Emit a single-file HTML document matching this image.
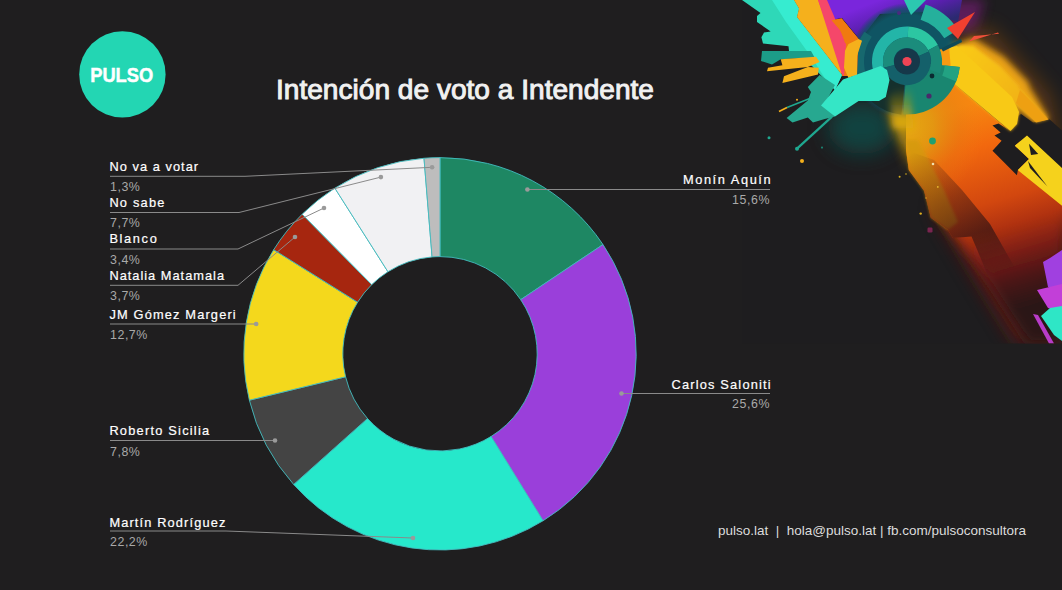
<!DOCTYPE html>
<html lang="es"><head><meta charset="utf-8"><title>Intención de voto a Intendente</title>
<style>
html,body{margin:0;padding:0;background:#1f1e1f;}
body{width:1062px;height:590px;overflow:hidden;position:relative;font-family:"Liberation Sans",sans-serif;}
svg{position:absolute;left:0;top:0;display:block}
.nm{font:12.8px "Liberation Sans",sans-serif;fill:#fff;stroke:#fff;stroke-width:.2px}
.vl{font:12.4px "Liberation Sans",sans-serif;fill:#a9a9a9;letter-spacing:.55px}
.title{font:400 27.5px "Liberation Sans",sans-serif;fill:#f1f1f1;stroke:#f1f1f1;stroke-width:.95px}
.logo{font:700 21px "Liberation Sans",sans-serif;fill:#fff;stroke:#fff;stroke-width:.5px}
.foot{font:13.5px "Liberation Sans",sans-serif;fill:#dcdcdc}
</style></head>
<body>
<svg width="1062" height="590" viewBox="0 0 1062 590">
<rect width="1062" height="590" fill="#1f1e1f"/>
<defs>
<clipPath id="artclip"><rect x="742" y="0" width="320" height="343.5"/></clipPath>
<filter id="b1" x="-10%" y="-10%" width="120%" height="120%"><feGaussianBlur stdDeviation="1.5"/></filter>
<filter id="b3" x="-30%" y="-30%" width="160%" height="160%"><feGaussianBlur stdDeviation="3"/></filter>
<filter id="b6" x="-40%" y="-40%" width="180%" height="180%"><feGaussianBlur stdDeviation="6"/></filter>
<filter id="b10" x="-50%" y="-50%" width="200%" height="200%"><feGaussianBlur stdDeviation="10"/></filter>
<filter id="b16" x="-60%" y="-60%" width="220%" height="220%"><feGaussianBlur stdDeviation="16"/></filter>
<linearGradient id="gBand" gradientUnits="userSpaceOnUse" x1="950" y1="110" x2="1010" y2="310">
 <stop offset="0" stop-color="#f78810"/><stop offset=".21" stop-color="#f2680e"/><stop offset=".48" stop-color="#d2470f"/>
 <stop offset=".61" stop-color="#b03210"/><stop offset=".74" stop-color="#7c1e14"/><stop offset=".87" stop-color="#4a1518"/><stop offset="1" stop-color="#2a1619"/>
</linearGradient>
<radialGradient id="gAmber" gradientUnits="userSpaceOnUse" cx="906" cy="128" r="78">
 <stop offset="0" stop-color="#e6aa12" stop-opacity="1"/><stop offset=".35" stop-color="#e09a12" stop-opacity=".85"/><stop offset=".7" stop-color="#e07c12" stop-opacity=".3"/><stop offset="1" stop-color="#f07a10" stop-opacity="0"/>
</radialGradient>
<linearGradient id="gEdge" gradientUnits="userSpaceOnUse" x1="915" y1="150" x2="985" y2="255">
 <stop offset="0" stop-color="#3a1612" stop-opacity="0"/><stop offset=".5" stop-color="#3a1612" stop-opacity=".45"/><stop offset="1" stop-color="#2a1214" stop-opacity=".8"/>
</linearGradient>
<linearGradient id="gFade" gradientUnits="userSpaceOnUse" x1="930" y1="150" x2="1040" y2="330">
 <stop offset="0" stop-color="#1a1a1c" stop-opacity="0"/><stop offset=".5" stop-color="#1a1a1c" stop-opacity="0"/><stop offset="1" stop-color="#1a1a1c" stop-opacity=".55"/>
</linearGradient>
<linearGradient id="gPurple" gradientUnits="userSpaceOnUse" x1="880" y1="0" x2="895" y2="40">
 <stop offset="0" stop-color="#7a26dc"/><stop offset=".5" stop-color="#5b1fb0"/><stop offset="1" stop-color="#2b2a70"/>
</linearGradient>
<linearGradient id="gYellow" gradientUnits="userSpaceOnUse" x1="950" y1="60" x2="1040" y2="140">
 <stop offset="0" stop-color="#f9c915"/><stop offset=".6" stop-color="#f2b514"/><stop offset="1" stop-color="#eea212"/>
</linearGradient>
<linearGradient id="gMask" gradientUnits="userSpaceOnUse" x1="950" y1="110" x2="1010" y2="310">
<stop offset="0" stop-color="#fff"/><stop offset=".6" stop-color="#fff"/><stop offset=".82" stop-color="#000"/></linearGradient>
<mask id="mBand" maskUnits="userSpaceOnUse" x="742" y="0" width="320" height="344"><rect x="742" y="0" width="320" height="344" fill="url(#gMask)"/></mask>
<radialGradient id="gDisc" gradientUnits="userSpaceOnUse" cx="907" cy="61" r="58">
<stop offset="0" stop-color="#0f5463"/><stop offset=".8" stop-color="#0f5463"/><stop offset=".9" stop-color="#0f5062" stop-opacity=".7"/><stop offset="1" stop-color="#10485e" stop-opacity="0"/></radialGradient>
<linearGradient id="gMist" gradientUnits="userSpaceOnUse" x1="900" y1="88" x2="902" y2="124">
<stop offset="0" stop-color="#c8a010" stop-opacity="0"/><stop offset=".5" stop-color="#c8a010" stop-opacity=".45"/><stop offset="1" stop-color="#dcaa10" stop-opacity=".95"/></linearGradient>
</defs>
<g clip-path="url(#artclip)">
<rect x="742" y="0" width="320" height="343.5" fill="#1e1d1f"/>
<!-- soft glows -->
<ellipse cx="862" cy="128" rx="34" ry="26" fill="#0d4f4c" opacity=".75" filter="url(#b10)"/>
<polygon points="950,30 990,28 1050,95 1062,150 1000,110" fill="#a85a0f" opacity=".45" filter="url(#b10)"/>
<polygon points="930,0 985,0 975,30 945,30" fill="#8a1a8a" opacity=".55" filter="url(#b6)"/>
<polygon points="935,205 1062,190 1062,343 1018,343 972,268" fill="#6a1c18" opacity=".95" filter="url(#b10)"/>
<polygon points="898,92 912,100 912,170 904,150 893,125 889,105" fill="#d9a410" opacity=".9" filter="url(#b6)"/>
<!-- purple top -->
<polygon points="826,0 962,0 958,22 925,12 880,14 860,40 842,18 831,20" fill="url(#gPurple)"/>
<!-- dark teal disc -->
<circle cx="907" cy="61" r="58" fill="url(#gDisc)"/>
<path d="M907 61.5L901.4 114.7A53.5 53.5 0 0 1 856.1 78.0Z" fill="#15302d"/>
<!-- main diagonal band -->
<polygon points="940,215 1062,190 1062,343.5 1028,343.5 1000,300 975,262" fill="url(#gBand)" filter="url(#b6)"/>
<g mask="url(#mBand)"><polygon points="906,112 936,92 953,82.7 1010,131 1062,180 1062,343.5 1032,343.5 1015.6,319.5 992,285.6 978,251.7 971.5,236.4 952.9,238 947.8,229.7 930.8,217.8 924,190.7 908.8,170 906,150" fill="url(#gBand)"/>
<polygon points="906,112 936,92 953,82.7 1010,131 1062,180 1062,343.5 1032,343.5 1015.6,319.5 992,285.6 978,251.7 971.5,236.4 952.9,238 947.8,229.7 930.8,217.8 924,190.7 908.8,170 906,150" fill="url(#gAmber)"/>
<polygon points="906,140 908.8,170 924,190.7 930.8,217.8 947.8,229.7 958,222 944,190 928,158 918,140" fill="#d09a10" opacity=".6" filter="url(#b1)"/>
<polygon points="906,150 908.8,170 924,190.7 930.8,217.8 947.8,229.7 952.9,238 971.5,236.4 978,251.7 992,285.6 1015,268 990,224 962,190 934,160" fill="url(#gEdge)"/></g>
<!-- yellow band -->
<polygon points="952,46 973,38 1004,57 1028,82 1030,88 1049,119 1036,122.5 1000,98 965,66" fill="#eaa212" filter="url(#b3)"/>
<polygon points="992.5,125.4 998.6,123.4 1009.8,130.5 1015.3,124.4 1015.3,118.3 1021,114 1033,122.4 1049.4,119.3 1062,130.5 1062,168 1027,135.6 1014.8,145.7 1029,159 1017.9,170 1016.9,175.2 992.5,150.8 1001.6,140.7 994.5,135.6 1000.6,132.5" fill="#1e1d1f"/>
<polygon points="946,50 961,45 973,46 1000,66 1019,86 1019,88 1048.6,119 1036,122.5 1014,102 1019,112 1017,124 1010.5,131 953,82.7 942.7,68" fill="url(#gYellow)" filter="url(#b1)"/>
<polygon points="941,49 957,46 1012,97 1019,112 1017,124 1010.5,131 953,82.7 942.7,68" fill="#f8c916"/>
<polygon points="1020,90 1048.6,119.5 1036,122.5 1016,103" fill="#eea012"/>
<polygon points="939,50 949,46 951,70 943,70" fill="#f79a12"/>
<polygon points="941,48.5 961,39 962,42 943,51.5" fill="#0f4a58"/>
<polygon points="1027,135.6 1062,168 1062,205.7 1018.9,171 1017.9,170 1029,159 1014.8,145.7" fill="#f5d21c"/>
<polygon points="1029,143.7 1038.2,153.9 1031,154.9" fill="#1e1d1f"/>
<polygon points="1028,161 1047.4,186.4 1030,168" fill="#1e1d1f"/>
<!-- sector bottom of disc -->
<path d="M907 61.5L959.7 67.0A53 53 0 0 1 903.3 114.4Z" fill="#198670"/>
<path d="M959.7 67.0A53 53 0 0 1 956.1 81.4L942.2 75.7A38 38 0 0 0 944.8 65.5Z" fill="#22a282"/>
<!-- rings -->
<path d="M859.9 83.5A52 52 0 0 1 864.4 31.7L871.8 36.8A43 43 0 0 0 868.0 79.7Z" fill="#17686e"/>
<path d="M875.0 75.7A35 35 0 0 1 908.2 26.5L907.8 37.5A24 24 0 0 0 885.1 71.3Z" fill="#23b5a8"/>
<path d="M908.2 26.5A35 35 0 0 1 937.9 45.1L928.2 50.2A24 24 0 0 0 907.8 37.5Z" fill="#2cc6a2"/>
<path d="M937.9 45.1A35 35 0 0 1 939.9 73.5L929.6 69.7A24 24 0 0 0 928.2 50.2Z" fill="#1b8a78"/>
<path d="M883.8 67.7A24 24 0 0 1 928.8 51.4L918.8 56.0A13 13 0 0 0 894.4 64.9Z" fill="#1b8c7c"/>
<path d="M928.8 51.4A24 24 0 1 1 883.8 67.7L894.4 64.9A13 13 0 1 0 918.8 56.0Z" fill="#14606a"/>
<circle cx="907" cy="61.5" r="13" fill="#16384a"/>
<circle cx="907" cy="61.5" r="4.6" fill="#f04455"/>
<polygon points="889,96 899,88 911,90 913,128 893,128" fill="url(#gMist)" filter="url(#b3)"/>
<!-- outer teal segments -->
<polygon points="904,0 926,0 911,15" fill="#2cc8b0"/>
<path d="M925.5 4.4A60 60 0 0 1 957.9 29.7L944.3 38.2A44 44 0 0 0 920.6 19.7Z" fill="#25b09c"/>
<circle cx="932" cy="76" r="2.4" fill="#0b2a30"/>
<circle cx="929" cy="96" r="2.6" fill="#4a2a6a"/>
<circle cx="899" cy="13" r="2" fill="#4a2a80"/>
<polygon points="947,28 975,12 958,39" fill="#f0402f"/>
<polygon points="969,41.5 998,32.6 999,33.8 974,36" fill="#f0503a"/>
<!-- left strokes -->
<polygon points="826,4 831.5,20.3 841.7,18.6 858.6,39 857,76 842,76 843,60" fill="#f07a10"/>
<polygon points="817,0 827,0 846,44 844,76 840,72" fill="#f5476a"/>
<polygon points="742,0 794,0 799,8.5 797,17 842,75 835,90 812,66 789,51 788.5,46.2 763,43.6 761.4,37.3 764,32.6 770.7,31.4 757,22 757,16 760.5,13" fill="#2ed8b8"/>
<polygon points="772,0 794,0 799,8.5 797,17 842,75 835,90 826,80 812,58 786,22" fill="#36ecd0"/>
<polygon points="762,51 811,51 814.6,57.6 780.7,59.3 772,64.4 761,61" fill="#1c9c88"/>
<polygon points="794,0 818,0 842,75 797,17 799,8.5" fill="#f5b01c"/>
<polygon points="818,0 826.4,0 845,44 843.4,67.8" fill="#f5476a"/>
<polygon points="831.5,20.3 841.7,18.6 858.6,39 848.5,44 845,43 841.7,32" fill="#f07a10"/>
<polygon points="848.5,44 858.6,39 862,40.7 857,56 857,74.6 848.5,78 844,67.8 845,50.8" fill="#f5b01c"/>
<polygon points="780.7,59.3 816,56.8 819.7,61.9 807.8,67 767,71.2 768,67.8 782.4,65.3" fill="#f5b01c"/>
<polygon points="807.8,67 818.8,67.8 818,74.6 782.4,83 784,76.3" fill="#f5b01c"/>
<polygon points="807.8,87 819.7,75 835,85 824.7,104 835,116.6 824.7,119 813,122.5 807.8,117.5 792.5,122.5 786.6,118 807.8,100.5 811,92" fill="#27a890"/>
<polygon points="821,105.6 843,79.5 880.7,66 887,70 889.5,80 885.8,97 879,101 858.6,101 835,116.6" fill="#35e6c6"/>
<line x1="832" y1="116.6" x2="797" y2="148.6" stroke="#1fa890" stroke-width="2.2"/>
<circle cx="797" cy="148.8" r="2" fill="#1fa890"/>
<line x1="811" y1="98" x2="787" y2="107.5" stroke="#1fa890" stroke-width="1.6"/>
<line x1="787" y1="107.5" x2="779" y2="111.5" stroke="#f5b01c" stroke-width="1.8"/>
<circle cx="769" cy="137.8" r="1.5" fill="#1fa890"/>
<circle cx="802" cy="161" r="2" fill="#f5b01c"/>
<circle cx="797" cy="99.7" r="1" fill="#f5b01c"/>
<circle cx="822" cy="147.6" r="1.1" fill="#1a8070"/>
<circle cx="932.5" cy="141" r="3.4" fill="#1fa070"/>
<circle cx="933" cy="164" r="1.3" fill="#f0e0b0"/>
<circle cx="899.6" cy="176.7" r="1" fill="#d8b020"/>
<circle cx="906" cy="174" r=".8" fill="#d8b020"/>
<circle cx="937.8" cy="186.9" r=".9" fill="#e8b830"/>
<circle cx="920.7" cy="213.6" r="1.2" fill="#e0b020"/>
<circle cx="926" cy="198" r=".8" fill="#d8a020"/>
<rect x="927.5" y="227.5" width="5" height="5" rx="1.2" fill="#7a2450"/>
<!-- bottom right purple -->
<polygon points="1043,262 1050,258 1062,250 1062,290 1048,287" fill="#a040e0"/>
<polygon points="1037,290 1062,284 1062,312 1048,308" fill="#c23fd8"/>
<polygon points="1033,314 1038,315 1054,343.5 1049,343.5" fill="#b83cc8"/>
<polygon points="1041,316 1050,308 1062,306 1062,341 1054,335" fill="#2ee6c6"/>
</g>

<circle cx="122.4" cy="74.4" r="43.2" fill="#23d6b3"/>
<text x="121.7" y="81.6" text-anchor="middle" class="logo" textLength="63" lengthAdjust="spacingAndGlyphs">PULSO</text>
<text x="276" y="99.2" class="title" textLength="378" lengthAdjust="spacingAndGlyphs">Intención de voto a Intendente</text>
<g stroke="#43bcc0" stroke-width=".9" stroke-linejoin="round">
<path d="M440.00 157.60A196.2 196.2 0 0 1 602.96 244.54L520.73 299.67A97.2 97.2 0 0 0 440.00 256.60Z" fill="#1e8763"/>
<path d="M602.96 244.54A196.2 196.2 0 0 1 543.04 520.77L491.05 436.52A97.2 97.2 0 0 0 520.73 299.67Z" fill="#9a3fda"/>
<path d="M543.04 520.77A196.2 196.2 0 0 1 293.65 484.47L367.49 418.54A97.2 97.2 0 0 0 491.05 436.52Z" fill="#26e8cb"/>
<path d="M293.65 484.47A196.2 196.2 0 0 1 249.37 400.20L345.56 376.79A97.2 97.2 0 0 0 367.49 418.54Z" fill="#444444"/>
<path d="M249.37 400.20A196.2 196.2 0 0 1 273.69 249.71L357.61 302.23A97.2 97.2 0 0 0 345.56 376.79Z" fill="#f4d81c"/>
<path d="M273.69 249.71A196.2 196.2 0 0 1 302.14 214.20L371.70 284.64A97.2 97.2 0 0 0 357.61 302.23Z" fill="#a6260f"/>
<path d="M302.14 214.20A196.2 196.2 0 0 1 334.87 188.14L387.92 271.73A97.2 97.2 0 0 0 371.70 284.64Z" fill="#ffffff"/>
<path d="M334.87 188.14A196.2 196.2 0 0 1 423.99 158.25L432.07 256.92A97.2 97.2 0 0 0 387.92 271.73Z" fill="#f1f1f3"/>
<path d="M423.99 158.25A196.2 196.2 0 0 1 440.00 157.60L440.00 256.60A97.2 97.2 0 0 0 432.07 256.92Z" fill="#bdbdbd"/>
</g>
<polyline points="110.0,176.3 245.0,176.3 432.1,167.3" fill="none" stroke="#8a8a8a" stroke-width="1"/>
<circle cx="432.1" cy="167.3" r="2.3" fill="#9a9a9a"/>
<text x="109.4" y="171" text-anchor="start" class="nm" textLength="88.7">No va a votar</text>
<text x="110" y="190.7" text-anchor="start" class="vl">1,3%</text>
<polyline points="110.0,212.5 239.0,212.5 380.9,177.1" fill="none" stroke="#8a8a8a" stroke-width="1"/>
<circle cx="380.9" cy="177.1" r="2.3" fill="#9a9a9a"/>
<text x="109.4" y="207" text-anchor="start" class="nm" textLength="55">No sabe</text>
<text x="110" y="227.3" text-anchor="start" class="vl">7,7%</text>
<polyline points="110.0,249.0 238.0,249.0 324.0,208.0" fill="none" stroke="#8a8a8a" stroke-width="1"/>
<circle cx="324.0" cy="208.0" r="2.3" fill="#9a9a9a"/>
<text x="109.4" y="243.3" text-anchor="start" class="nm" textLength="47.4">Blanco</text>
<text x="110" y="263.6" text-anchor="start" class="vl">3,4%</text>
<polyline points="110.0,285.3 238.0,285.3 295.0,237.0" fill="none" stroke="#8a8a8a" stroke-width="1"/>
<circle cx="295.0" cy="237.0" r="2.3" fill="#9a9a9a"/>
<text x="109.4" y="280" text-anchor="start" class="nm" textLength="114.6">Natalia Matamala</text>
<text x="110" y="299.5" text-anchor="start" class="vl">3,7%</text>
<polyline points="110.0,324.0 256.2,324.0" fill="none" stroke="#8a8a8a" stroke-width="1"/>
<circle cx="256.2" cy="324.0" r="2.3" fill="#9a9a9a"/>
<text x="109.4" y="318.8" text-anchor="start" class="nm" textLength="126.3">JM Gómez Margeri</text>
<text x="110" y="338.5" text-anchor="start" class="vl">12,7%</text>
<polyline points="110.0,440.5 275.0,440.5" fill="none" stroke="#8a8a8a" stroke-width="1"/>
<circle cx="275.0" cy="440.5" r="2.3" fill="#9a9a9a"/>
<text x="109.4" y="435" text-anchor="start" class="nm" textLength="99.7">Roberto Sicilia</text>
<text x="110" y="456" text-anchor="start" class="vl">7,8%</text>
<polyline points="110.0,531.0 226.0,531.0 413.0,538.0" fill="none" stroke="#8a8a8a" stroke-width="1"/>
<circle cx="413.0" cy="538.0" r="2.3" fill="#9a9a9a"/>
<text x="109.4" y="526.5" text-anchor="start" class="nm" textLength="115.9">Martín Rodríguez</text>
<text x="110" y="546" text-anchor="start" class="vl">22,2%</text>
<polyline points="770.0,189.5 527.4,189.5" fill="none" stroke="#8a8a8a" stroke-width="1"/>
<circle cx="527.4" cy="189.5" r="2.3" fill="#9a9a9a"/>
<text x="770.6" y="184" text-anchor="end" class="nm" textLength="87.6">Monín Aquín</text>
<text x="770" y="204" text-anchor="end" class="vl">15,6%</text>
<polyline points="770.0,393.5 621.5,393.5" fill="none" stroke="#8a8a8a" stroke-width="1"/>
<circle cx="621.5" cy="393.5" r="2.3" fill="#9a9a9a"/>
<text x="770.6" y="388.5" text-anchor="end" class="nm" textLength="99.1">Carlos Saloniti</text>
<text x="770" y="408" text-anchor="end" class="vl">25,6%</text>
<text x="718" y="535" class="foot" textLength="308" lengthAdjust="spacingAndGlyphs" xml:space="preserve">pulso.lat  |  hola@pulso.lat | fb.com/pulsoconsultora</text>
</svg>
</body></html>
